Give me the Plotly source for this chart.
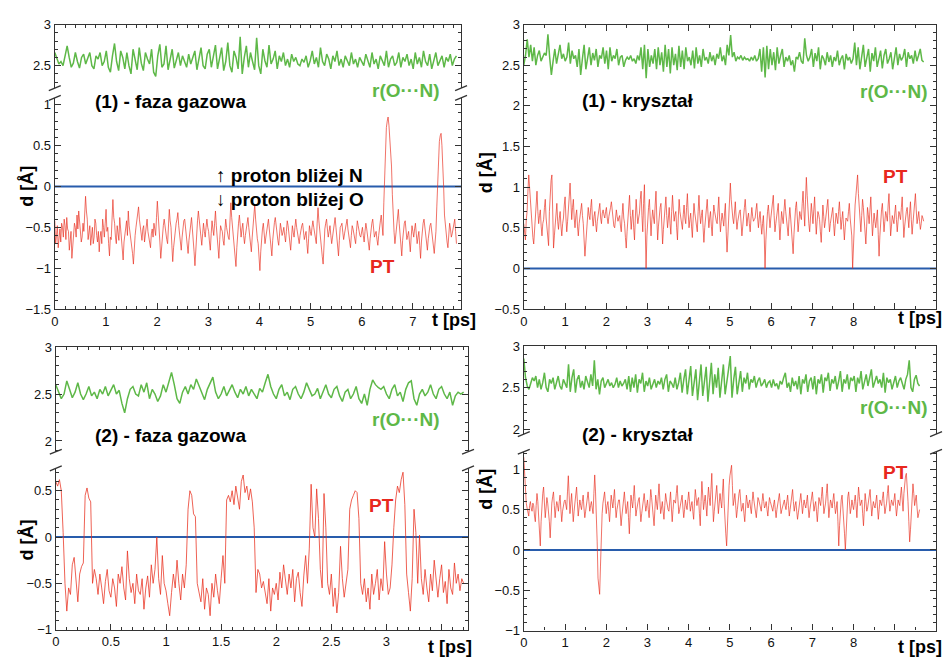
import numpy as np
import plotly.graph_objects as go

W, H = 947, 664
FONT = "Liberation Sans, Arial, Helvetica, sans-serif"
GREEN = "rgb(94,184,72)"
RED = "rgba(233,48,32,0.85)"
BLUE = "rgb(40,92,172)"
AXC = "#333333"

# ---------------- data ----------------
# (1) gas phase: r(O...N) [A]
tl_r = [2.66,2.58,2.52,2.55,2.50,2.62,2.74,2.60,2.48,2.53,2.66,2.55,2.47,2.60,2.64,2.52,2.58,2.66,2.50,2.46,2.62,2.58,2.66,2.50,2.55,
        2.68,2.48,2.42,2.62,2.77,2.55,2.44,2.68,2.60,2.46,2.66,2.50,2.40,2.70,2.58,2.45,2.72,2.53,2.44,2.66,2.58,2.52,2.70,2.42,2.37,
        2.62,2.76,2.48,2.52,2.74,2.45,2.60,2.70,2.47,2.56,2.66,2.50,2.62,2.55,2.48,2.64,2.52,2.60,2.68,2.45,2.58,2.72,2.50,2.46,2.64,
        2.70,2.48,2.62,2.75,2.46,2.58,2.72,2.44,2.55,2.78,2.50,2.42,2.68,2.60,2.46,2.85,2.40,2.60,2.74,2.48,2.66,2.55,2.45,2.84,2.50,
        2.40,2.70,2.56,2.48,2.75,2.52,2.58,2.68,2.46,2.62,2.55,2.66,2.50,2.58,2.48,2.64,2.55,2.60,2.52,2.50,2.58,2.54,2.62,2.48,2.56,
        2.68,2.52,2.60,2.48,2.72,2.55,2.50,2.64,2.58,2.46,2.62,2.55,2.68,2.50,2.58,2.48,2.62,2.56,2.50,2.66,2.52,2.58,2.48,2.60,2.55,
        2.50,2.64,2.55,2.48,2.66,2.52,2.58,2.46,2.62,2.56,2.50,2.68,2.48,2.58,2.62,2.50,2.54,2.66,2.48,2.60,2.55,2.64,2.50,2.58,2.46,
        2.66,2.52,2.60,2.48,2.68,2.55,2.50,2.64,2.46,2.58,2.66,2.50,2.56,2.62,2.48,2.60,2.55,2.64,2.50,2.58,2.62]
# (1) gas phase: d [A] -- main samples and the samples half a step later
tl_d = [-0.42,-0.60,-0.75,-0.52,-0.45,-0.62,-0.48,-0.38,-0.55,-0.70,-0.88,-0.60,-0.50,-0.35,-0.30,-0.48,-0.62,-0.55,-0.12,-0.40,-0.58,-0.72,-0.50,-0.62,-0.45,-0.68,-0.80,-0.55,-0.40,-0.62,
        -0.28,-0.50,-0.85,-0.65,-0.16,-0.45,-0.70,-0.55,-0.38,-0.62,-0.90,-0.58,-0.42,-0.30,-0.55,-0.72,-0.95,-0.60,-0.42,-0.25,-0.50,-0.66,-0.48,-0.58,-0.40,-0.62,-0.75,-0.52,-0.45,-0.60,
        -0.18,-0.48,-0.88,-0.62,-0.40,-0.55,-0.70,-0.28,-0.50,-0.92,-0.62,-0.45,-0.32,-0.58,-0.78,-0.50,-0.40,-0.60,-0.82,-0.55,-0.38,-0.62,-0.97,-0.58,-0.30,-0.50,-0.72,-0.45,-0.62,-0.40,
        -0.55,-0.78,-0.42,-0.60,-0.30,-0.65,-0.88,-0.48,-0.55,-0.72,-0.40,-0.58,-0.65,-0.20,-0.50,-0.75,-0.98,-0.55,-0.35,-0.62,-0.45,-0.70,-0.52,-0.38,-0.60,-0.80,-0.48,-0.22,-0.55,-0.70,
        -1.03,-0.62,-0.45,-0.70,-0.55,-0.40,-0.62,-0.85,-0.50,-0.38,-0.58,-0.72,-0.45,-0.60,-0.50,-0.68,-0.42,-0.55,-0.78,-0.48,-0.62,-0.40,-0.58,-0.70,-0.52,-0.45,-0.65,-0.55,-0.82,-0.48,
        -0.60,-0.42,-0.58,-0.70,-0.26,-0.55,-0.75,-0.95,-0.52,-0.40,-0.62,-0.48,-0.70,-0.55,-0.38,-0.60,-0.85,-0.50,-0.45,-0.65,-0.52,-0.40,-0.62,-0.75,-0.48,-0.58,-0.70,-0.42,-0.55,-0.62,
        -0.50,-0.68,-0.45,-0.60,-0.78,-0.52,-0.40,-0.62,-0.55,-0.72,-0.48,-0.35,-0.60,0.20,0.72,0.85,0.60,0.25,-0.40,-0.70,-0.48,-0.28,-0.58,-0.85,-0.50,-0.42,-0.65,-0.55,-0.80,-0.48,
        -0.62,-0.45,-0.70,-0.55,-0.88,-0.50,-0.40,-0.62,-0.78,-0.52,-0.45,-0.65,-0.82,-0.55,0.10,0.55,0.65,0.30,-0.35,-0.60,-0.75,-0.45,-0.62,-0.52,-0.40,-0.70]
tl_d_half = [-0.70,-0.48,-0.58,-0.68,-0.50,-0.40,-0.65,-0.52,-0.78,-0.55,-0.68,-0.45,-0.62,-0.52,-0.42,-0.68,-0.45,-0.35,-0.30,-0.65,-0.48,-0.60,-0.70,-0.40,-0.60,-0.55,-0.62,-0.70,-0.50,-0.45,
        -0.55,-0.70,-0.62,-0.40,-0.38,-0.62,-0.48,-0.66,-0.50,-0.75,-0.68,-0.45,-0.60,-0.48,-0.66,-0.82,-0.70,-0.50,-0.35,-0.40,-0.62,-0.52,-0.68,-0.46,-0.55,-0.70,-0.58,-0.62,-0.52,-0.38,
        -0.35,-0.68,-0.70,-0.48,-0.50,-0.65,-0.45,-0.42,-0.72,-0.75,-0.52,-0.40,-0.48,-0.70,-0.62,-0.42,-0.52,-0.72,-0.66,-0.45,-0.52,-0.80,-0.75,-0.42,-0.40,-0.62,-0.58,-0.55,-0.50,-0.50,
        -0.68,-0.58,-0.52,-0.45,-0.48,-0.78,-0.65,-0.52,-0.66,-0.55,-0.50,-0.62,-0.42,-0.38,-0.65,-0.88,-0.75,-0.45,-0.50,-0.52,-0.60,-0.60,-0.44,-0.50,-0.72,-0.62,-0.35,-0.40,-0.64,-0.88,
        -0.80,-0.52,-0.58,-0.62,-0.46,-0.52,-0.75,-0.66,-0.44,-0.50,-0.66,-0.58,-0.52,-0.56,-0.60,-0.55,-0.48,-0.68,-0.60,-0.56,-0.50,-0.50,-0.65,-0.60,-0.48,-0.56,-0.60,-0.70,-0.64,-0.55,
        -0.50,-0.50,-0.65,-0.45,-0.42,-0.66,-0.86,-0.70,-0.45,-0.52,-0.55,-0.60,-0.62,-0.46,-0.50,-0.74,-0.66,-0.48,-0.56,-0.58,-0.45,-0.52,-0.70,-0.60,-0.52,-0.65,-0.55,-0.48,-0.60,-0.55,
        -0.60,-0.55,-0.52,-0.70,-0.64,-0.45,-0.52,-0.58,-0.65,-0.60,-0.42,-0.48,-0.20,0.50,0.80,0.75,0.42,-0.10,-0.56,-0.60,-0.38,-0.45,-0.72,-0.66,-0.45,-0.55,-0.60,-0.68,-0.62,-0.55,
        -0.52,-0.58,-0.62,-0.72,-0.68,-0.45,-0.52,-0.70,-0.64,-0.48,-0.56,-0.74,-0.68,-0.25,0.35,0.62,0.50,0.00,-0.48,-0.68,-0.60,-0.52,-0.58,-0.45,-0.55]
# (1) crystal: r(O...N)
tr_r = [2.50,2.62,2.82,2.60,2.75,2.55,2.72,2.50,2.62,2.68,2.55,2.60,2.65,2.62,2.88,2.60,2.38,2.55,2.70,2.52,2.62,2.75,2.58,2.64,
        2.55,2.60,2.78,2.52,2.68,2.58,2.62,2.48,2.70,2.38,2.58,2.75,2.45,2.62,2.72,2.50,2.65,2.56,2.70,2.48,2.62,2.58,2.72,2.52,
        2.68,2.45,2.72,2.55,2.62,2.58,2.70,2.50,2.60,2.62,2.48,2.56,2.60,2.57,2.62,2.55,2.58,2.52,2.62,2.56,2.72,2.45,2.75,2.34,
        2.70,2.48,2.62,2.52,2.70,2.45,2.72,2.50,2.66,2.42,2.75,2.48,2.70,2.40,2.72,2.50,2.64,2.44,2.74,2.48,2.68,2.45,2.72,2.55,
        2.60,2.50,2.68,2.46,2.72,2.52,2.62,2.48,2.70,2.56,2.60,2.52,2.66,2.55,2.62,2.50,2.64,2.58,2.72,2.55,2.62,2.50,2.75,2.62,
        2.87,2.60,2.66,2.55,2.60,2.58,2.62,2.56,2.60,2.57,2.58,2.55,2.60,2.56,2.62,2.55,2.58,2.70,2.42,2.72,2.35,2.74,2.45,2.70,
        2.50,2.66,2.44,2.72,2.52,2.62,2.70,2.48,2.60,2.55,2.62,2.50,2.56,2.42,2.60,2.58,2.66,2.55,2.52,2.83,2.62,2.55,2.60,2.70,
        2.48,2.65,2.55,2.72,2.45,2.62,2.58,2.50,2.66,2.54,2.62,2.48,2.60,2.55,2.68,2.50,2.58,2.62,2.45,2.64,2.56,2.60,2.52,2.58,
        2.78,2.50,2.72,2.45,2.62,2.75,2.48,2.60,2.70,2.42,2.65,2.55,2.72,2.48,2.60,2.68,2.46,2.62,2.70,2.52,2.58,2.66,2.45,2.62,
        2.72,2.50,2.64,2.56,2.60,2.70,2.48,2.66,2.58,2.62,2.52,2.68,2.55,2.62,2.70,2.56,2.54]
# (1) crystal: d
tr_d = [0.55,0.35,0.70,1.15,0.85,0.45,0.30,0.62,0.95,0.55,0.72,0.40,0.60,0.85,0.50,0.28,1.00,1.15,0.25,0.55,0.80,0.48,0.70,0.40,0.62,
        0.88,0.45,0.70,1.05,0.60,0.85,0.50,0.72,0.40,0.62,0.80,0.55,0.15,0.48,0.75,0.60,0.85,0.52,0.70,0.45,0.65,0.80,0.55,0.72,0.62,
        0.75,0.55,0.68,0.82,0.60,0.50,0.72,0.58,0.65,0.45,0.80,0.55,0.25,0.62,0.90,0.48,0.72,0.35,0.85,0.55,0.68,0.95,0.45,1.03,0.00,
        0.62,0.85,0.40,0.72,0.55,0.95,0.35,0.68,0.80,0.30,0.62,0.88,0.50,0.75,0.42,0.90,0.58,0.70,0.35,0.85,0.60,0.48,0.78,0.55,0.92,
        0.50,0.68,0.38,0.80,0.60,0.45,0.90,0.55,0.72,0.32,0.65,0.85,0.50,0.70,0.40,0.78,0.62,0.55,0.88,0.45,0.68,0.52,0.80,0.20,0.62,
        1.05,0.70,0.55,0.82,0.48,0.65,0.72,0.40,0.60,0.85,0.52,0.68,0.45,0.75,0.58,0.62,0.80,0.50,0.70,0.42,0.65,0.00,0.60,0.78,0.50,
        0.72,0.90,0.45,0.62,0.80,0.35,0.70,0.55,0.85,0.60,0.40,0.75,0.50,0.18,0.68,0.82,0.45,0.70,0.60,0.95,0.52,1.12,0.65,0.45,0.80,
        0.55,0.88,0.42,0.70,0.60,0.32,0.78,0.50,0.65,0.85,0.45,0.62,0.75,0.40,0.68,0.55,0.82,0.48,0.70,0.35,0.62,0.58,0.80,0.45,0.00,
        0.60,0.90,1.15,0.70,0.45,0.85,0.62,0.30,0.75,0.55,0.88,0.40,0.68,0.50,0.72,0.15,0.62,0.80,0.45,0.70,0.58,0.92,0.40,0.65,0.55,
        0.78,0.45,0.70,0.60,0.88,0.38,0.65,0.75,0.50,0.82,0.42,0.68,0.92,0.55,0.70,0.48,0.65,0.58]
tr_d_half = [0.42,0.60,0.95,1.00,0.62,0.38,0.48,0.80,0.70,0.65,0.52,0.55,0.75,0.62,0.35,0.70,1.08,0.60,0.40,0.70,0.58,0.62,0.52,0.55,0.78,
        0.62,0.58,0.88,0.78,0.75,0.62,0.65,0.52,0.55,0.72,0.65,0.35,0.30,0.62,0.65,0.75,0.62,0.64,0.55,0.58,0.75,0.62,0.68,0.66,0.70,
        0.62,0.64,0.75,0.70,0.52,0.62,0.64,0.62,0.52,0.66,0.62,0.38,0.45,0.78,0.65,0.62,0.50,0.62,0.68,0.62,0.85,0.65,0.80,0.50,0.40,
        0.75,0.58,0.60,0.62,0.78,0.62,0.52,0.75,0.52,0.48,0.78,0.65,0.62,0.55,0.70,0.72,0.66,0.50,0.62,0.70,0.52,0.66,0.62,0.75,0.68,
        0.60,0.52,0.62,0.68,0.50,0.70,0.68,0.65,0.50,0.50,0.78,0.66,0.62,0.52,0.62,0.70,0.58,0.72,0.62,0.58,0.60,0.68,0.45,0.40,0.90,
        0.85,0.62,0.70,0.62,0.58,0.70,0.55,0.52,0.75,0.66,0.62,0.55,0.62,0.64,0.60,0.72,0.62,0.62,0.55,0.55,0.40,0.35,0.70,0.62,0.62,
        0.82,0.65,0.55,0.72,0.55,0.52,0.62,0.72,0.70,0.48,0.60,0.62,0.35,0.42,0.75,0.62,0.58,0.64,0.80,0.72,0.85,0.90,0.55,0.62,0.68,
        0.72,0.62,0.58,0.66,0.45,0.55,0.64,0.58,0.78,0.62,0.55,0.70,0.55,0.55,0.62,0.70,0.64,0.60,0.52,0.50,0.60,0.70,0.62,0.40,0.35,
        0.78,1.05,0.92,0.55,0.65,0.75,0.45,0.52,0.66,0.72,0.62,0.55,0.58,0.62,0.42,0.40,0.72,0.62,0.58,0.65,0.78,0.65,0.52,0.60,0.68,
        0.60,0.58,0.66,0.75,0.62,0.52,0.70,0.62,0.68,0.60,0.55,0.82,0.72,0.62,0.58,0.55,0.62]
# (2) gas phase: r(O...N)
bl_r = [2.60,2.52,2.45,2.50,2.64,2.55,2.46,2.52,2.62,2.50,2.44,2.50,2.58,2.48,2.52,2.45,2.55,2.50,2.58,2.48,2.55,2.60,2.50,2.54,2.40,2.30,2.45,2.55,2.58,2.50,2.48,2.60,2.52,2.62,2.45,2.55,2.50,2.42,2.48,2.60,
        2.52,2.62,2.73,2.60,2.45,2.40,2.52,2.58,2.50,2.60,2.55,2.66,2.58,2.50,2.44,2.55,2.62,2.68,2.52,2.45,2.50,2.58,2.48,2.55,2.60,2.52,2.46,2.55,2.50,2.58,2.48,2.55,2.50,2.45,2.56,2.52,2.62,2.71,2.58,2.50,
        2.45,2.55,2.60,2.48,2.52,2.44,2.55,2.58,2.50,2.45,2.52,2.62,2.55,2.48,2.50,2.56,2.45,2.52,2.60,2.50,2.46,2.55,2.58,2.48,2.42,2.52,2.55,2.45,2.50,2.58,2.45,2.40,2.50,2.38,2.55,2.65,2.60,2.57,2.55,2.58,
        2.50,2.45,2.55,2.60,2.48,2.52,2.42,2.55,2.62,2.64,2.45,2.38,2.50,2.55,2.48,2.52,2.60,2.50,2.45,2.55,2.58,2.50,2.45,2.52,2.38,2.48,2.52,2.50,2.52]
# (2) gas phase: d
bl_d = [0.60,0.55,0.62,0.50,0.05,-0.50, -0.80,-0.55,-0.62,-0.30,-0.22,-0.48, -0.70,-0.40,-0.32,-0.28,0.45,0.53,
        0.42,0.38,-0.50,-0.35,-0.45,-0.62, -0.40,-0.55,-0.72,-0.48,-0.35,-0.58, -0.65,-0.45,-0.55,-0.75,-0.40,-0.50,
        -0.32,-0.55,-0.68,-0.15,-0.45,-0.60, -0.50,-0.72,-0.40,-0.58,-0.62,-0.45, -0.78,-0.55,-0.42,-0.65,-0.30,-0.50,
        -0.35,0.00,-0.45,-0.62,-0.20,-0.50, -0.58,-0.72,-0.85,-0.60,-0.40,-0.55, -0.25,-0.50,-0.68,-0.40,-0.55,-0.30,
        0.30,0.50,0.45,0.25,0.22,-0.50, -0.60,-0.70,-0.45,-0.78,-0.55,-0.62, -0.85,-0.50,-0.65,-0.40,-0.58,-0.72,
        -0.45,-0.20,-0.50,0.40,0.45,0.38, 0.50,0.35,0.55,0.42,0.30,0.60, 0.67,0.48,0.55,0.40,0.52,0.38,
        0.10,-0.60,-0.35,-0.40,-0.55,-0.48, -0.60,-0.72,-0.45,-0.80,-0.55,-0.62, -0.50,-0.68,-0.38,-0.55,-0.30,-0.48,
        -0.62,-0.40,-0.55,-0.35,-0.70,-0.45, -0.38,-0.60,-0.75,-0.42,-0.20,-0.50, -0.12,0.57,0.10,0.00,0.52,0.20,
        -0.35,-0.55,0.47,0.10,-0.50,-0.62, -0.40,-0.75,-0.55,-0.82,-0.60,-0.10, -0.45,-0.65,-0.50,-0.35,0.30,0.40,
        0.45,0.50,0.48,0.20,-0.50,-0.62, -0.45,-0.70,-0.55,-0.78,-0.40,-0.62, -0.50,-0.35,-0.68,-0.45,-0.58,-0.05,
        -0.40,-0.62,-0.55,-0.30,0.10,0.40, 0.55,0.48,0.62,0.70,0.35,-0.40, -0.60,-0.80,-0.45,0.30,0.05,-0.50,
        0.02,-0.45,-0.62,-0.35,-0.55,-0.70, -0.40,-0.58,-0.25,-0.50,-0.65,-0.45, -0.30,-0.60,-0.48,-0.72,-0.35,-0.55,
        -0.62,-0.28,-0.50,-0.40,-0.58,-0.45, -0.50]
# (2) crystal: r(O...N)
br_r = [2.85,2.62,2.52,2.48,2.55,2.62,2.58,2.64,2.50,2.60,2.48,2.56,2.68,2.50,2.45,2.60,2.55,2.62,2.48,2.58,2.64,2.52,2.48,2.60,
        2.55,2.50,2.78,2.45,2.62,2.72,2.44,2.60,2.65,2.50,2.58,2.48,2.64,2.55,2.50,2.66,2.52,2.83,2.48,2.60,2.42,2.58,2.62,2.50,
        2.55,2.60,2.52,2.56,2.50,2.54,2.62,2.50,2.58,2.52,2.55,2.60,2.48,2.64,2.45,2.62,2.50,2.66,2.44,2.60,2.55,2.68,2.45,2.58,
        2.52,2.62,2.48,2.55,2.60,2.50,2.58,2.54,2.62,2.48,2.60,2.66,2.45,2.58,2.55,2.50,2.62,2.48,2.56,2.68,2.44,2.60,2.72,2.42,
        2.62,2.76,2.40,2.55,2.72,2.35,2.60,2.78,2.40,2.62,2.75,2.33,2.58,2.80,2.42,2.66,2.50,2.74,2.38,2.62,2.78,2.42,2.55,2.72,
        2.88,2.38,2.60,2.75,2.42,2.58,2.70,2.45,2.62,2.55,2.68,2.48,2.60,2.56,2.64,2.50,2.58,2.62,2.52,2.55,2.60,2.50,2.56,2.58,
        2.50,2.60,2.52,2.55,2.48,2.58,2.54,2.62,2.68,2.50,2.56,2.45,2.62,2.52,2.58,2.48,2.64,2.42,2.60,2.55,2.66,2.45,2.58,2.62,
        2.48,2.64,2.42,2.60,2.55,2.66,2.44,2.62,2.58,2.68,2.46,2.60,2.55,2.64,2.48,2.58,2.70,2.45,2.60,2.55,2.66,2.48,2.62,2.58,
        2.64,2.45,2.62,2.55,2.70,2.48,2.58,2.66,2.52,2.62,2.72,2.50,2.58,2.64,2.55,2.60,2.50,2.68,2.44,2.62,2.56,2.60,2.48,2.58,
        2.64,2.50,2.58,2.62,2.55,2.48,2.60,2.66,2.83,2.50,2.45,2.60,2.65,2.55,2.52]
# (2) crystal: d
br_d = [1.15,0.70,0.52,0.42,0.60,0.48,0.55,0.35,0.70,0.45,0.05,0.62,0.78,0.40,0.65,0.50,0.15,0.58,0.72,0.40,0.60,0.48,0.68,0.35,0.55,
        0.62,0.50,0.92,0.45,0.70,0.35,0.58,0.78,0.42,0.62,0.50,0.68,0.40,0.55,0.72,0.48,0.60,0.45,0.93,0.50,-0.35,-0.55,0.30,0.58,0.72,
        0.45,0.60,0.35,0.68,0.52,0.75,0.40,0.58,0.62,0.30,0.55,0.72,0.45,0.60,0.20,0.68,0.52,0.80,0.42,0.58,0.65,0.35,0.55,0.70,0.48,
        0.62,0.40,0.75,0.55,0.30,0.68,0.50,0.82,0.45,0.60,0.38,0.70,0.55,0.48,0.72,0.35,0.62,0.58,0.80,0.45,0.55,0.68,0.40,0.62,0.50,
        0.72,0.48,0.60,0.38,0.75,0.55,0.65,0.30,0.85,0.50,0.68,0.42,0.78,0.55,0.95,0.35,0.62,0.80,0.45,0.70,0.52,0.88,0.30,0.05,0.60,
        0.92,1.05,0.55,0.70,0.40,0.62,0.75,0.48,0.58,0.35,0.68,0.52,0.62,0.45,0.72,0.55,0.40,0.65,0.58,0.48,0.70,0.52,0.60,0.42,0.65,
        0.55,0.48,0.62,0.40,0.58,0.70,0.45,0.55,0.62,0.50,0.68,0.42,0.58,0.75,0.48,0.60,0.38,0.55,0.70,0.45,0.62,0.52,0.68,0.40,0.58,
        0.72,0.48,0.60,0.35,0.65,0.55,0.78,0.45,0.58,0.82,0.40,0.62,0.52,0.70,0.45,0.60,0.05,0.55,0.68,0.42,0.00,0.58,0.72,0.45,0.62,
        0.50,0.68,0.40,0.78,0.55,0.62,0.30,0.70,0.48,0.58,0.75,0.42,0.60,0.52,0.68,0.38,0.62,0.55,0.72,0.45,0.58,0.80,0.48,0.62,0.55,
        0.70,0.42,0.62,0.55,0.78,0.48,0.88,0.95,0.60,0.10,0.45,0.82,0.55,0.68,0.40,0.50]
br_d_half = [0.90,0.58,0.48,0.55,0.52,0.58,0.42,0.55,0.60,0.30,0.35,0.70,0.60,0.52,0.58,0.35,0.40,0.66,0.55,0.52,0.55,0.60,0.50,0.48,0.60,
        0.55,0.72,0.68,0.58,0.52,0.48,0.68,0.60,0.52,0.55,0.60,0.52,0.48,0.65,0.60,0.55,0.52,0.70,0.72,0.10,-0.48,-0.20,0.45,0.66,0.58,
        0.55,0.48,0.52,0.60,0.64,0.55,0.50,0.62,0.45,0.42,0.65,0.58,0.52,0.40,0.45,0.60,0.66,0.60,0.50,0.62,0.50,0.45,0.62,0.58,0.55,
        0.50,0.58,0.65,0.42,0.50,0.58,0.66,0.62,0.52,0.48,0.55,0.62,0.50,0.60,0.52,0.50,0.60,0.70,0.62,0.50,0.62,0.52,0.50,0.55,0.62,
        0.60,0.55,0.48,0.58,0.65,0.62,0.45,0.60,0.68,0.60,0.55,0.62,0.65,0.75,0.62,0.48,0.72,0.62,0.58,0.60,0.72,0.58,0.20,0.35,0.80,
        0.98,0.80,0.62,0.55,0.50,0.70,0.60,0.52,0.45,0.52,0.60,0.58,0.52,0.60,0.62,0.48,0.52,0.62,0.52,0.60,0.60,0.55,0.50,0.55,0.60,
        0.50,0.56,0.50,0.50,0.65,0.58,0.50,0.60,0.55,0.60,0.55,0.50,0.68,0.60,0.55,0.48,0.46,0.62,0.58,0.55,0.56,0.60,0.52,0.50,0.65,
        0.60,0.55,0.48,0.50,0.60,0.66,0.62,0.52,0.70,0.60,0.52,0.58,0.62,0.56,0.52,0.35,0.30,0.62,0.55,0.20,0.30,0.66,0.58,0.52,0.55,
        0.60,0.55,0.60,0.66,0.58,0.45,0.50,0.60,0.52,0.66,0.58,0.52,0.55,0.60,0.52,0.50,0.58,0.64,0.58,0.52,0.70,0.62,0.55,0.58,0.62,
        0.55,0.52,0.58,0.68,0.62,0.70,0.92,0.80,0.35,0.25,0.65,0.70,0.62,0.52,0.45]

# simulation lengths [ps]
tl_tmax, tr_tmax, bl_tmax, br_tmax = 7.85, 9.7, 3.7, 9.6

tick_x_tl = [0, 1, 2, 3, 4, 5, 6, 7]
tick_x_cr = [0, 1, 2, 3, 4, 5, 6, 7, 8, 9]
tick_x_bl = [0, 0.5, 1, 1.5, 2, 2.5, 3, 3.5]


def merge(main, half):
    # main samples with the half-step samples placed between them
    assert len(half) == len(main) - 1
    out = []
    for a, b in zip(main[:-1], half):
        out += [a, b]
    out.append(main[-1])
    return out


def times(vals, tmax):
    return np.linspace(0, tmax, len(vals))


def xdom(a, b):
    return [a / W, b / W]


def ydom(top, bottom):
    return [1 - bottom / H, 1 - top / H]


fig = go.Figure()

def add(vals, tmax, xa, ya, color, width):
    fig.add_trace(go.Scatter(x=times(vals, tmax), y=vals, mode="lines",
                             line=dict(color=color, width=width),
                             xaxis=xa, yaxis=ya, showlegend=False, hoverinfo="skip"))

add(tl_r, tl_tmax, "x", "y", GREEN, 1.5)
add(merge(tl_d, tl_d_half), tl_tmax, "x2", "y2", RED, 0.8)
add(tr_r, tr_tmax, "x3", "y3", GREEN, 1.5)
add(merge(tr_d, tr_d_half), tr_tmax, "x3", "y3", RED, 0.8)
add(bl_r, bl_tmax, "x4", "y4", GREEN, 1.5)
add(bl_d, bl_tmax, "x5", "y5", RED, 0.9)
add(br_r, br_tmax, "x6", "y6", GREEN, 1.5)
add(merge(br_d, br_d_half), br_tmax, "x7", "y7", RED, 0.8)

TICKFONT = dict(family=FONT, size=13, color="#111")
BASE = dict(showline=True, linecolor=AXC, linewidth=1.2, ticks="inside", ticklen=6,
            tickwidth=1, tickcolor=AXC, showgrid=False, zeroline=False, tickfont=TICKFONT)


def xax(dom, rng, anchor, tickvals, labels, minor, side="bottom", mirror=False):
    d = dict(BASE, domain=dom, range=rng, anchor=anchor, side=side, mirror=mirror,
             tickmode="array", tickvals=tickvals,
             ticktext=[("" if not labels or (v == tickvals[-1] and labels == "skiplast") else f"{v:g}") for v in tickvals],
             minor=dict(ticks="inside", ticklen=3, tickcolor=AXC, dtick=minor, showgrid=False))
    if not labels:
        d["showticklabels"] = False
    return d


def yax(dom, rng, anchor, dtick, tick0, minor):
    return dict(BASE, domain=dom, range=rng, anchor=anchor, mirror="ticks",
                dtick=dtick, tick0=tick0,
                minor=dict(ticks="inside", ticklen=3, tickcolor=AXC, dtick=minor, showgrid=False))

# pixel geometry of panels
TLx = xdom(51, 459); TRx = xdom(522, 936); BLx = xdom(52, 466); BRx = xdom(522, 936)
TLu = ydom(18, 83); TLl = ydom(93, 309)
TRy = ydom(18, 309)
BLu = ydom(348, 455); BLl = ydom(472, 637)
BRu = ydom(347, 437); BRl = ydom(455, 638)

fig.update_layout(
    width=W, height=H, margin=dict(l=0, r=0, t=0, b=0),
    paper_bgcolor="white", plot_bgcolor="white",
    xaxis=xax(TLx, [0, 7.94], "y", tick_x_tl, False, 0.2, side="top"),
    yaxis=yax(TLu, [2.226, 3.0], "x", 0.5, 2.5, 0.1),
    xaxis2=xax(TLx, [0, 7.94], "y2", tick_x_tl, True, 0.2),
    yaxis2=yax(TLl, [-1.5, 1.084], "x2", 0.5, 0, 0.1),
    xaxis3=xax(TRx, [0, 10], "y3", tick_x_cr, "skiplast", 0.5, mirror="ticks"),
    yaxis3=yax(TRy, [-0.5, 3.0], "x3", 0.5, 0, 0.1),
    xaxis4=xax(BLx, [0, 3.74], "y4", tick_x_bl, False, 0.1, side="top"),
    yaxis4=yax(BLu, [1.885, 3.0], "x4", 0.5, 2, 0.1),
    xaxis5=xax(BLx, [0, 3.74], "y5", tick_x_bl, "skiplast", 0.1),
    yaxis5=yax(BLl, [-1.0, 0.742], "x5", 0.5, 0, 0.1),
    xaxis6=xax(BRx, [0, 10], "y6", tick_x_cr, False, 0.5, side="top"),
    yaxis6=yax(BRu, [1.94, 3.0], "x6", 0.5, 2, 0.1),
    xaxis7=xax(BRx, [0, 10], "y7", tick_x_cr, "skiplast", 0.5),
    yaxis7=yax(BRl, [-1.0, 1.218], "x7", 0.5, 0, 0.1),
)

shapes = []
# zero lines
for xa, ya in [("x2", "y2"), ("x3", "y3"), ("x5", "y5"), ("x7", "y7")]:
    shapes.append(dict(type="line", xref=f"{xa} domain", yref=ya, x0=0, x1=1, y0=0, y1=0,
                       line=dict(color=BLUE, width=2), layer="below"))
# axis break marks
dx, dy = 6 / W, 2.5 / H
for xd, ys in [(TLx, [TLu[0], TLl[1]]), (BLx, [BLu[0], BLl[1]]), (BRx, [BRu[0], BRl[1]])]:
    for xv in xd:
        for yv in ys:
            shapes.append(dict(type="line", xref="paper", yref="paper",
                               x0=xv - dx, x1=xv + dx, y0=yv - dy, y1=yv + dy,
                               line=dict(color=AXC, width=1.3)))
fig.update_layout(shapes=shapes)

ann = []
def text(s, x, y, color="black", size=19, xanchor="left", angle=0):
    ann.append(dict(text=s, x=x / W, y=1 - y / H, xref="paper", yref="paper",
                    xanchor=xanchor, yanchor="middle", showarrow=False, textangle=angle,
                    font=dict(family=FONT, size=size, color=color, weight="bold")))

text("(1) - faza gazowa", 89, 97)
text("r(O···N)", 368, 85, GREEN)
text("↑ proton bliżej N", 211, 172)
text("↓ proton bliżej O", 211, 197)
text("PT", 366, 266, "rgb(232,40,30)")
text("(1) - kryształ", 578, 96)
text("r(O···N)", 858, 86, GREEN)
text("PT", 881, 173, "rgb(232,40,30)")
text("(2) - faza gazowa", 89, 438)
text("r(O···N)", 368, 422, GREEN)
text("PT", 365, 510, "rgb(232,40,30)")
text("(2) - kryształ", 578, 437)
text("r(O···N)", 858, 410, GREEN)
text("PT", 881, 476, "rgb(232,40,30)")
for x, y in [(476, 320), (944, 318), (472, 655), (944, 655)]:
    text("t [ps]", x, y, xanchor="right", size=18)
for x, y in [(23, 183), (484, 169), (23, 545), (484, 493)]:
    text("d [Å]", x, y, xanchor="center", angle=-90, size=18)
fig.update_layout(annotations=ann)

fig.write_html("out.html", config={"displayModeBar": False},
               post_script="document.body.style.margin='0';document.body.style.overflow='hidden';")
